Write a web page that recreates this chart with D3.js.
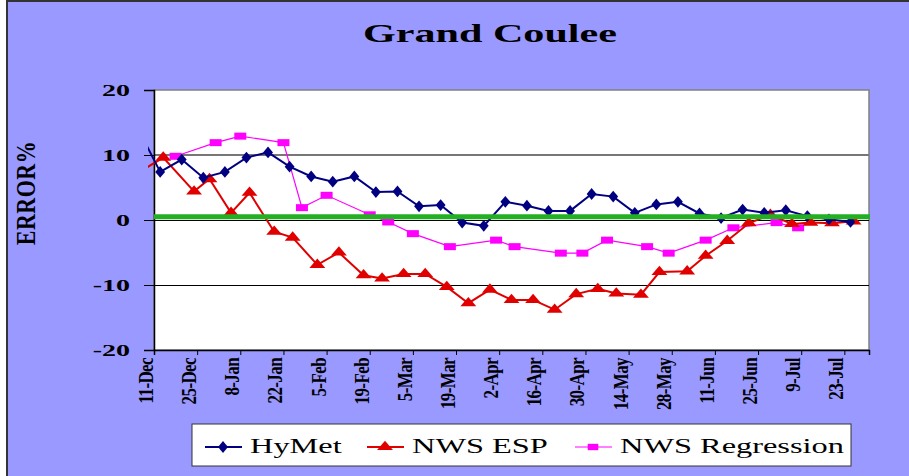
<!DOCTYPE html>
<html lang="en">
<head>
  <meta charset="UTF-8">
  <title>Grand Coulee</title>
  <script src="https://d3js.org/d3.v7.min.js"></script>
  <style>
    body { margin: 0; background: #fff; }
    text { font-family: "Liberation Serif", "Times New Roman", serif; fill: #000; }
  </style>
</head>
<body>

<svg id="chart" width="909" height="476"></svg>

<script>
  // tick labels on the date axis (every 14 days)
  var tickDates = ['2000-12-11', '2000-12-25', '2001-01-08', '2001-01-22', '2001-02-05', '2001-02-19',
    '2001-03-05', '2001-03-19', '2001-04-02', '2001-04-16', '2001-04-30', '2001-05-14',
    '2001-05-28', '2001-06-11', '2001-06-25', '2001-07-09', '2001-07-23'];
  var tickLabels = ['11-Dec', '25-Dec', '8-Jan', '22-Jan', '5-Feb', '19-Feb', '5-Mar', '19-Mar', '2-Apr',
    '16-Apr', '30-Apr', '14-May', '28-May', '11-Jun', '25-Jun', '9-Jul', '23-Jul'];
  var yTicks = [-20, -10, 0, 10, 20];

  // HyMet
  var hymetDates = ['2000-12-06', '2000-12-13', '2000-12-20', '2000-12-27', '2001-01-03', '2001-01-10',
    '2001-01-17', '2001-01-24', '2001-01-31', '2001-02-07', '2001-02-14', '2001-02-21', '2001-02-28',
    '2001-03-07', '2001-03-14', '2001-03-21', '2001-03-28', '2001-04-04', '2001-04-11', '2001-04-18',
    '2001-04-25', '2001-05-02', '2001-05-09', '2001-05-16', '2001-05-23', '2001-05-30', '2001-06-06',
    '2001-06-13', '2001-06-20', '2001-06-27', '2001-07-04', '2001-07-11', '2001-07-18', '2001-07-25'];
  var hymetValues = [13.9, 7.4, 9.3, 6.5, 7.4, 9.6, 10.4, 8.2, 6.7, 5.9, 6.7, 4.3, 4.4, 2.1, 2.3, -0.4,
    -0.9, 2.8, 2.2, 1.4, 1.4, 4.0, 3.6, 1.1, 2.4, 2.8, 1.0, 0.3, 1.6, 1.1, 1.5, 0.6, 0.1, -0.3];

  // NWS ESP
  var espDates = ['2000-12-07', '2000-12-14', '2000-12-24', '2000-12-29', '2001-01-05', '2001-01-11',
    '2001-01-19', '2001-01-25', '2001-02-02', '2001-02-09', '2001-02-17', '2001-02-23', '2001-03-02',
    '2001-03-09', '2001-03-16', '2001-03-23', '2001-03-30', '2001-04-06', '2001-04-13', '2001-04-20',
    '2001-04-27', '2001-05-04', '2001-05-10', '2001-05-18', '2001-05-24', '2001-06-02', '2001-06-08',
    '2001-06-15', '2001-06-22', '2001-06-29', '2001-07-06', '2001-07-12', '2001-07-19', '2001-07-26'];
  var espValues = [7.6, 9.6, 4.4, 6.3, 1.1, 4.2, -1.8, -2.7, -6.9, -5.0, -8.5, -9.0, -8.3, -8.3, -10.3,
    -12.8, -10.7, -12.3, -12.3, -13.8, -11.4, -10.6, -11.3, -11.5, -8.0, -7.9, -5.5, -3.2, -0.5, 0.8,
    -0.6, -0.4, -0.5, -0.2];

  // NWS Regression
  var regDates = ['2000-12-18', '2000-12-31', '2001-01-08', '2001-01-22', '2001-01-28', '2001-02-05',
    '2001-02-19', '2001-02-25', '2001-03-05', '2001-03-17', '2001-04-01', '2001-04-07', '2001-04-22',
    '2001-04-29', '2001-05-07', '2001-05-20', '2001-05-27', '2001-06-08', '2001-06-17', '2001-07-01',
    '2001-07-08'];
  var regValues = [9.8, 11.9, 12.9, 11.9, 1.9, 3.8, 0.8, -0.3, -2.1, -4.1, -3.1, -4.1, -5.1, -5.1, -3.1,
    -4.1, -5.1, -3.1, -1.2, -0.4, -1.2];

  // green reference level
  var refLevel = 0.5;

  var parse = d3.timeParse('%Y-%m-%d');
  var svg = d3.select('#chart');
  var stretch = 1.62; // picture is wider than tall, text looks stretched

  var plotL = 154, plotR = 869, plotT = 90, plotB = 350;

  var x = d3.scaleTime()
    .domain([parse('2000-12-11'), parse('2001-07-31')])
    .range([plotL, plotR]);
  var y = d3.scaleLinear().domain([-20, 20]).range([plotB, plotT]);

  // background
  svg.append('rect').attr('x', 7).attr('y', 1).attr('width', 910).attr('height', 480)
    .attr('fill', '#9999ff').attr('stroke', '#333').attr('stroke-width', 2);

  // title
  svg.append('text')
    .attr('transform', 'translate(490,42) scale(' + stretch + ',1)')
    .attr('text-anchor', 'middle')
    .style('font-size', '26px').style('font-weight', 'bold')
    .text('Grand Coulee');

  // plot area
  svg.append('rect').attr('x', plotL).attr('y', plotT).attr('width', plotR - plotL).attr('height', plotB - plotT)
    .attr('fill', '#fff').attr('stroke', '#808080').attr('stroke-width', 1.5);

  // gridlines
  svg.append('g').selectAll('line')
    .data(yTicks.filter(function (d) { return d > -20 && d < 20; }))
    .enter().append('line')
    .attr('x1', plotL).attr('x2', plotR)
    .attr('y1', function (d) { return y(d); }).attr('y2', function (d) { return y(d); })
    .attr('stroke', function (d) { return d === 10 ? '#777' : '#000'; })
    .attr('stroke-width', function (d) { return d === 10 ? 1.5 : 1; })
    .attr('shape-rendering', 'crispEdges');

  // y axis
  var yAxis = d3.axisLeft(y).tickValues(yTicks).tickSize(10).tickFormat('');
  var yg = svg.append('g').attr('transform', 'translate(' + plotL + ',0)').call(yAxis);
  yg.select('.domain').attr('stroke', '#000').attr('stroke-width', 1.5);
  yg.selectAll('.tick line').attr('stroke', '#000');

  svg.append('g').selectAll('text')
    .data(yTicks)
    .enter().append('text')
    .attr('transform', function (d) { return 'translate(130,' + (y(d) + 6) + ') scale(1.75,1)'; })
    .attr('text-anchor', 'end')
    .style('font-size', '16px').style('font-weight', 'bold')
    .text(function (d) { return d; });

  // x axis
  var tickParsed = tickDates.map(parse);
  var xAxis = d3.axisBottom(x).tickValues(tickParsed).tickSize(5).tickFormat('');
  var xg = svg.append('g').attr('transform', 'translate(0,' + plotB + ')').call(xAxis);
  xg.select('.domain').attr('stroke', '#000').attr('stroke-width', 1.5);
  xg.selectAll('.tick line').attr('stroke', '#000');

  svg.append('g').selectAll('text')
    .data(tickParsed)
    .enter().append('text')
    .attr('transform', function (d) { return 'translate(' + (x(d) - 1) + ',358) scale(1.2,1) rotate(-90)'; })
    .attr('text-anchor', 'end')
    .style('font-size', '17px').style('font-weight', 'bold').style('letter-spacing', '-0.6px')
    .text(function (d, i) { return tickLabels[i]; });

  // y title
  svg.append('text')
    .attr('transform', 'translate(35,193) scale(1.2,1) rotate(-90)')
    .attr('text-anchor', 'middle')
    .style('font-size', '22px').style('font-weight', 'bold').style('letter-spacing', '0.5px')
    .text('ERROR%');

  // clip for the series lines
  svg.append('clipPath').attr('id', 'clip').append('rect')
    .attr('x', 148).attr('y', 60).attr('width', plotR - 148 + 2).attr('height', 320);

  var line = d3.line()
    .x(function (d) { return x(d.date); })
    .y(function (d) { return y(d.value); });

  function series(dates, values) {
    return dates.map(function (d, i) { return { date: parse(d), value: values[i] }; });
  }

  var hymet = series(hymetDates, hymetValues);
  var esp = series(espDates, espValues);
  var reg = series(regDates, regValues);
  var x0 = x.domain()[0];

  var diamond = d3.symbol().type(d3.symbolDiamond).size(50);
  var triangle = d3.symbol().type(d3.symbolTriangle).size(70);

  // NWS Regression
  svg.append('path').datum(reg).attr('d', line).attr('clip-path', 'url(#clip)')
    .attr('fill', 'none').attr('stroke', '#ff00ff').attr('stroke-width', 1.2);
  svg.append('g').selectAll('rect')
    .data(reg.filter(function (d) { return d.date >= x0; }))
    .enter().append('rect')
    .attr('x', function (d) { return x(d.date) - 6; })
    .attr('y', function (d) { return y(d.value) - 3.5; })
    .attr('width', 12).attr('height', 7)
    .attr('fill', '#ff00ff');

  // NWS ESP
  svg.append('path').datum(esp).attr('d', line).attr('clip-path', 'url(#clip)')
    .attr('fill', 'none').attr('stroke', '#e00000').attr('stroke-width', 2);
  svg.append('g').selectAll('path')
    .data(esp.filter(function (d) { return d.date >= x0; }))
    .enter().append('path')
    .attr('d', triangle)
    .attr('transform', function (d) { return 'translate(' + x(d.date) + ',' + y(d.value) + ') scale(1.25,0.85)'; })
    .attr('fill', '#e00000');

  // HyMet
  svg.append('path').datum(hymet).attr('d', line).attr('clip-path', 'url(#clip)')
    .attr('fill', 'none').attr('stroke', '#000080').attr('stroke-width', 2);
  svg.append('g').selectAll('path')
    .data(hymet.filter(function (d) { return d.date >= x0; }))
    .enter().append('path')
    .attr('d', diamond)
    .attr('transform', function (d) { return 'translate(' + x(d.date) + ',' + y(d.value) + ') scale(1.3,0.9)'; })
    .attr('fill', '#000080');

  // green level line
  svg.append('line')
    .attr('x1', plotL).attr('x2', plotR + 1)
    .attr('y1', y(refLevel)).attr('y2', y(refLevel))
    .attr('stroke', '#22b022').attr('stroke-width', 5);

  // legend
  var legendItems = [
    { name: 'HyMet', color: '#000080', lw: 2, x: 205 },
    { name: 'NWS ESP', color: '#e00000', lw: 2, x: 367 },
    { name: 'NWS Regression', color: '#ff00ff', lw: 1.2, x: 575 }
  ];
  svg.append('rect').attr('x', 192).attr('y', 424).attr('width', 659).attr('height', 42)
    .attr('fill', '#fff').attr('stroke', '#333').attr('stroke-width', 1);

  var lg = svg.append('g').selectAll('g').data(legendItems).enter().append('g')
    .attr('transform', function (d) { return 'translate(' + d.x + ',447)'; });
  lg.append('line').attr('x1', 0).attr('x2', 37).attr('y1', 0).attr('y2', 0)
    .attr('stroke', function (d) { return d.color; })
    .attr('stroke-width', function (d) { return d.lw; });
  lg.append('path')
    .attr('d', function (d, i) {
      if (i === 0) return diamond();
      if (i === 1) return triangle();
      return d3.symbol().type(d3.symbolSquare).size(50)();
    })
    .attr('transform', function (d, i) {
      return i === 0 ? 'translate(18,0) scale(1.3,0.9)' : i === 1 ? 'translate(18,0) scale(1.25,0.85)' : 'translate(18,0) scale(1.5,0.9)';
    })
    .attr('fill', function (d) { return d.color; });
  lg.append('text')
    .attr('transform', 'translate(45,6) scale(' + stretch + ',1)')
    .style('font-size', '20px')
    .text(function (d) { return d.name; });
</script>

</body>
</html>
